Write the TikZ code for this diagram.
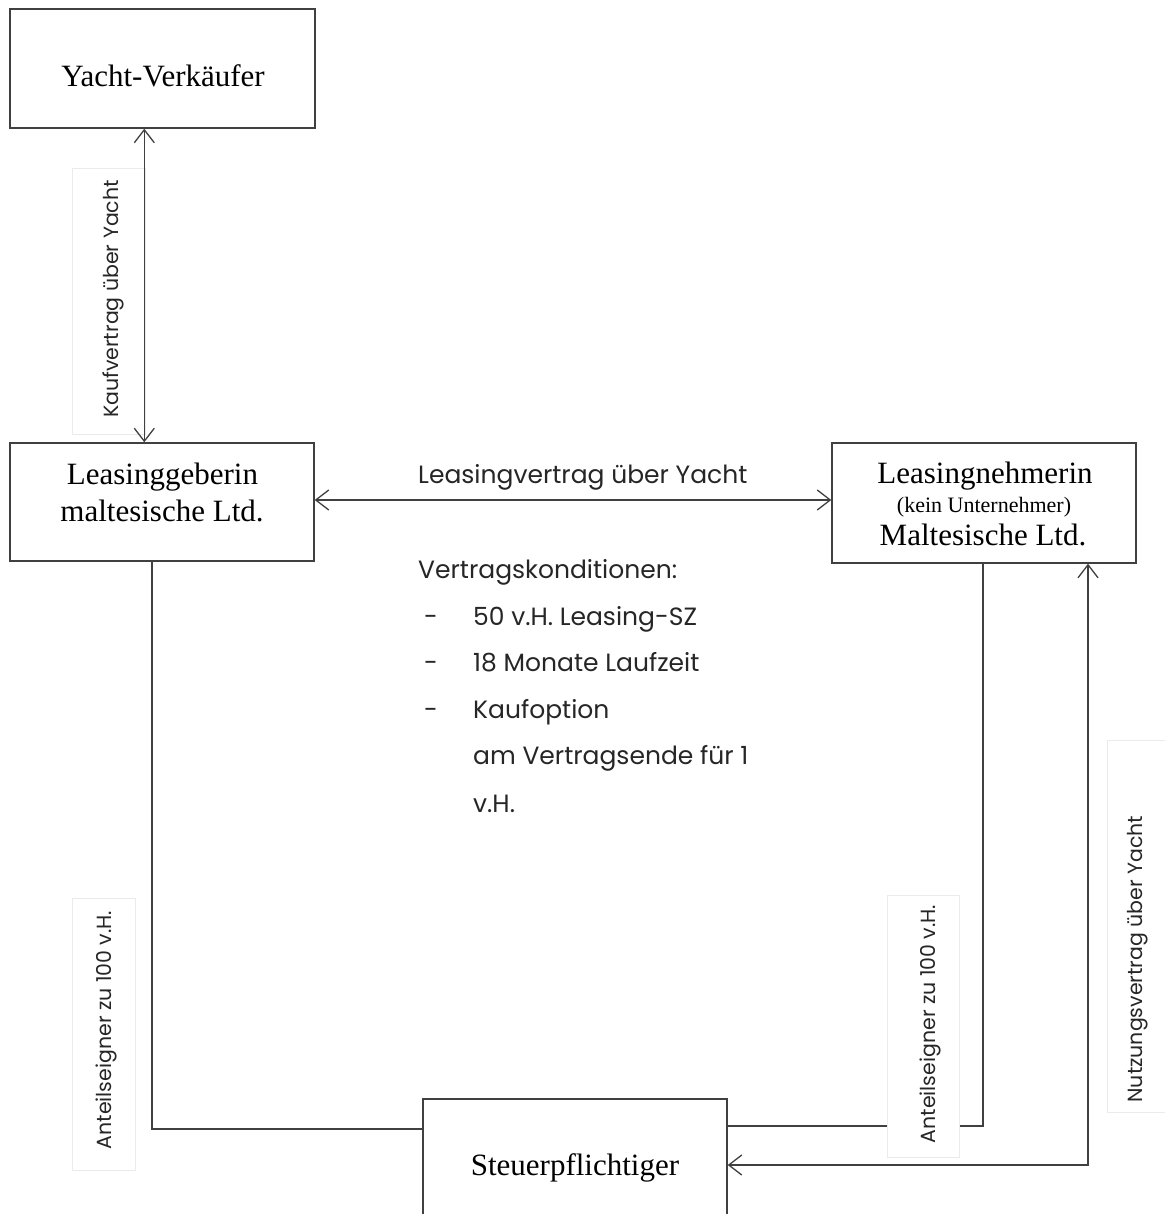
\documentclass[tikz,border=0pt]{standalone}
\usepackage{fontspec}
\setmainfont{Liberation Serif}
\newfontfamily\gothic{Poppins}
\usetikzlibrary{arrows.meta,calc}
\begin{document}
\begin{tikzpicture}[x=1pt,y=-1pt,
  ln/.style={line width=1.3pt,draw=black!75},
  arr/.style={ln,{Straight Barb[length=13pt,width=20pt]}-{Straight Barb[length=13pt,width=20pt]}},
  boxnode/.style={draw=black!75,line width=1.4pt,rectangle,inner sep=0pt,fill=white},
  serif/.style={font=\fontsize{31}{31}\selectfont,inner sep=0pt},
  serifsmall/.style={font=\fontsize{22}{22}\selectfont,inner sep=0pt},
  sans/.style={font=\gothic\fontsize{25}{25}\selectfont,inner sep=0pt,text=black!85},
  rsans/.style={font=\gothic\fontsize{20.5}{20.5}\selectfont,inner sep=0pt,rotate=90,text=black!85},
  lblbox/.style={draw=black!8,line width=0.8pt,fill=white,rectangle,inner sep=0pt}
]
\useasboundingbox (0,0) rectangle (1165,1214);
\clip (0,0) rectangle (1165,1214);
\fill[white] (0,0) rectangle (1165,1214);

% boxes
\node[boxnode,minimum width=305pt,minimum height=119pt] (ver) at (162.5,68.5) {};
\node[boxnode,minimum width=304pt,minimum height=118pt] (geb) at (162,502) {};
\node[boxnode,minimum width=304pt,minimum height=120pt] (neh) at (984,503) {};
\node[boxnode,minimum width=304pt,minimum height=120pt] (st) at (575,1159) {};

% box texts
\node[serif,anchor=base] (tver) at (163,87) {Yacht-Verkäufer};
\node[serif,anchor=base] (tgeb1) at (162.5,484) {Leasinggeberin};
\node[serif,anchor=base] (tgeb2) at (162,521) {maltesische Ltd.};
\node[serif,anchor=base] (tneh1) at (985,483) {Leasingnehmerin};
\node[serifsmall,anchor=base] (tneh2) at (984,512) {(kein Unternehmer)};
\node[serif,anchor=base] (tneh3) at (983,545) {Maltesische Ltd.};
\node[serif,anchor=base] (tst) at (575,1175) {Steuerpflichtiger};

% Kaufvertrag
\node[lblbox,minimum width=73pt,minimum height=266pt] (kbox) at (108.5,301) {};
\node[rsans] (klbl) at (113,299) {Kaufvertrag über Yacht};
\draw[arr] ([xshift=135pt]ver.south west) -- ([xshift=135pt]geb.north west);

% Leasingvertrag
\coordinate (lv) at (0,500);
\draw[arr] (geb.east |- lv) -- (neh.west |- lv);
\node[sans,anchor=base west] (lvl) at (418,483) {Leasingvertrag über Yacht};

% Vertragskonditionen
\node[sans,anchor=base west] (vk) at (418,578) {Vertragskonditionen:};
\node[sans,anchor=base west] (d1) at (424,625) {-};
\node[sans,anchor=base west] (d2) at (424,671) {-};
\node[sans,anchor=base west] (d3) at (424,718) {-};
\node[sans,anchor=base west] (i1) at (473,625) {50 v.H. Leasing-SZ};
\node[sans,anchor=base west] (i2) at (473,671) {18 Monate Laufzeit};
\node[sans,anchor=base west] (i3) at (473,718) {Kaufoption};
\node[sans,anchor=base west] (i4) at (473,764) {am Vertragsende für 1};
\node[sans,anchor=base west] (i5) at (473,812) {v.H.};

% left connector
\coordinate (L) at (152,1129);
\draw[ln] (geb.south -| L) -- (L) -- (st.west |- L);
\node[lblbox,minimum width=63pt,minimum height=272pt] (lbox) at (103.5,1034) {};
\node[rsans] (llbl) at (106,1030) {Anteilseigner zu 100 v.H.};

% right connector 1
\coordinate (R1) at (983,1126);
\draw[ln] (neh.south -| R1) -- (R1) -- (st.east |- R1);
\node[lblbox,minimum width=72pt,minimum height=262pt] (rbox) at (923,1026) {};
\node[rsans] (rlbl) at (930,1024) {Anteilseigner zu 100 v.H.};

% right connector 2
\coordinate (R2) at (1088,1165);
\draw[arr] (neh.south -| R2) -- (R2) -- (st.east |- R2);
\node[lblbox,minimum width=70pt,minimum height=372pt] (nbox) at (1142,926) {};
\node[rsans] (nlbl) at (1138,959) {Nutzungsvertrag über Yacht};
\end{tikzpicture}
\end{document}
